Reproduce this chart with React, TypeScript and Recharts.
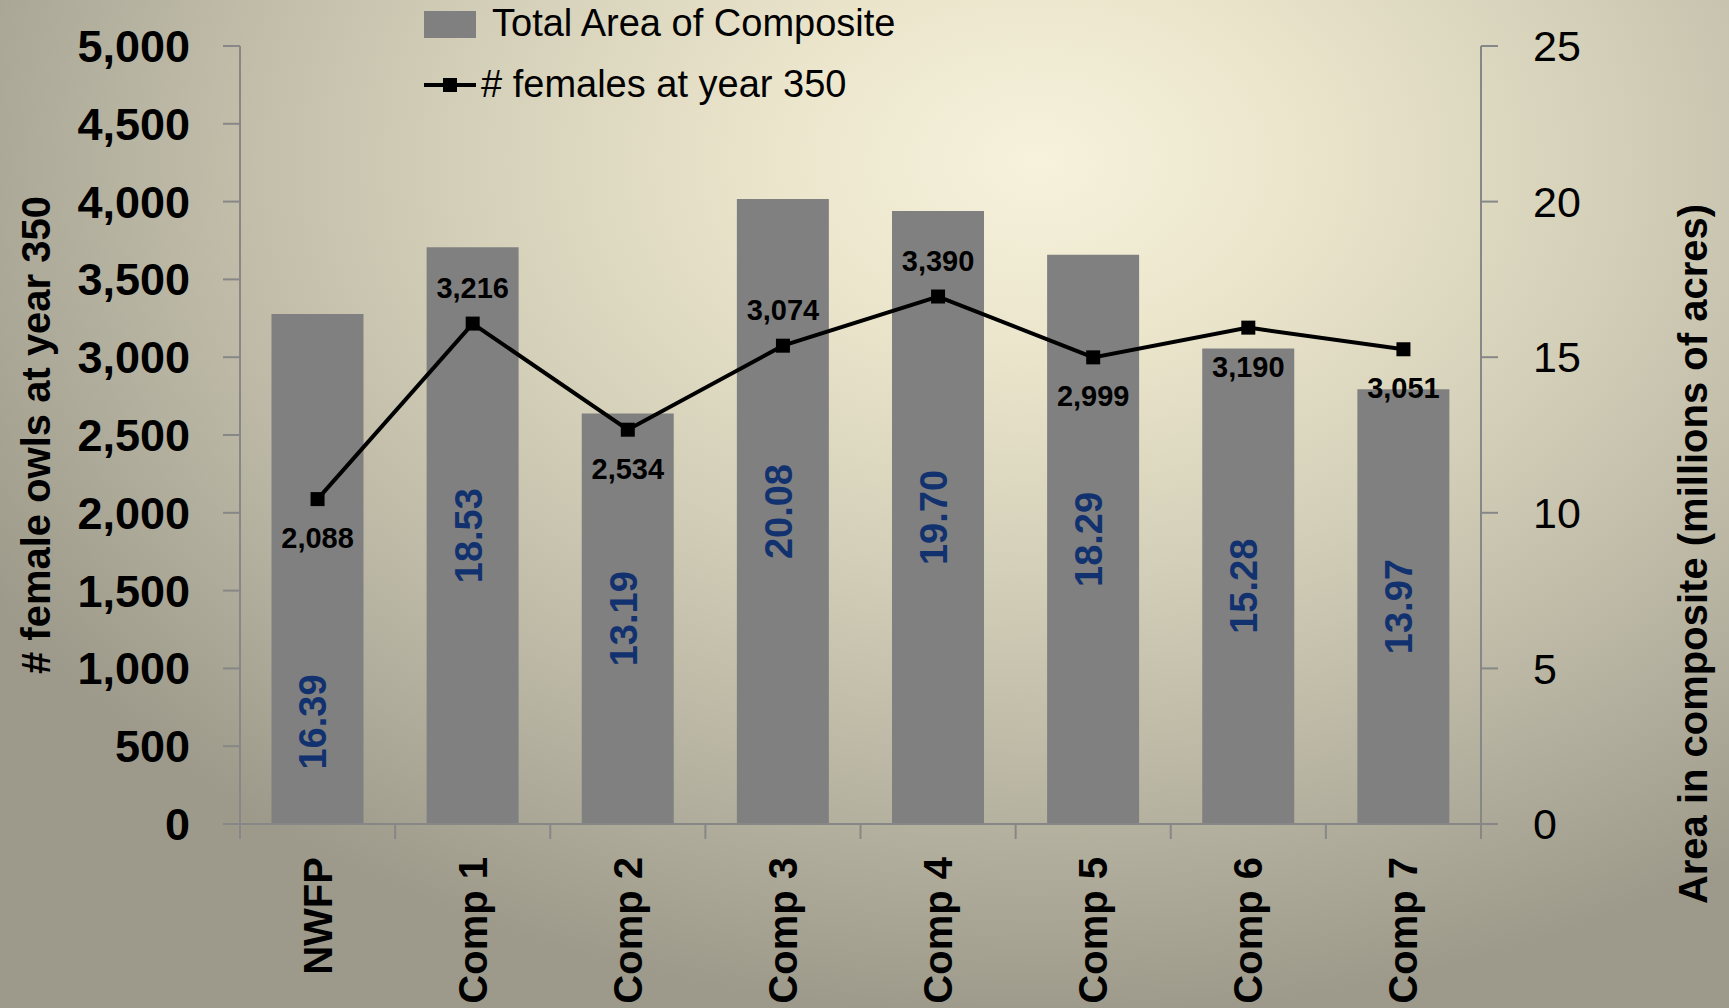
import React from 'react';
import {
  ComposedChart, Bar, Line, XAxis, YAxis, Legend, LabelList,
} from 'recharts';

const categories = ['NWFP', 'Comp 1', 'Comp 2', 'Comp 3', 'Comp 4', 'Comp 5', 'Comp 6', 'Comp 7'];
const areaMillionAcres = [16.39, 18.53, 13.19, 20.08, 19.70, 18.29, 15.28, 13.97];
const femalesYear350 = [2088, 3216, 2534, 3074, 3390, 2999, 3190, 3051];
const leftTicks = [0, 500, 1000, 1500, 2000, 2500, 3000, 3500, 4000, 4500, 5000];
const rightTicks = [0, 5, 10, 15, 20, 25];

const BAR_NAME = 'Total Area of Composite';
const LINE_NAME = '# females at year 350';
const LEFT_TITLE = '# female owls at year 350';
const RIGHT_TITLE = 'Area in composite (millions of acres)';

// label placement for the line values (above / below the marker)
const LINE_LABEL_SIDE = ['below', 'above', 'below', 'above', 'above', 'below', 'below', 'below'];

const W = 1729;
const H = 1008;
const LEFT_W = 240;
const RIGHT_W = 248;
const TOP = 46;
const X_H = 184;
const BAND = (W - LEFT_W - RIGHT_W) / categories.length;

const FONT = "'Liberation Sans', Arial, sans-serif";
const AXIS = '#878787';
const BAR_COLOR = '#808080';
const BLUE = '#12326f';

const data = categories.map((name, i) => ({
  name,
  area: areaMillionAcres[i],
  females: femalesYear350[i],
}));

const fmt = (v: number) => v.toLocaleString('en-US');

const XTick = (props: any) => {
  const { x, y, payload, index } = props;
  const ty = y + 33;
  return (
    <g>
      <line x1={x - BAND / 2} x2={x - BAND / 2} y1={y} y2={y + 15} stroke={AXIS} strokeWidth={2} />
      {index === categories.length - 1 && (
        <line x1={x + BAND / 2} x2={x + BAND / 2} y1={y} y2={y + 15} stroke={AXIS} strokeWidth={2} />
      )}
      <text
        x={x}
        y={ty}
        dy={14}
        transform={`rotate(-90 ${x} ${ty})`}
        textAnchor="end"
        fontFamily={FONT}
        fontWeight="bold"
        fontSize={40}
        fill="#000"
      >
        {payload.value}
      </text>
    </g>
  );
};

const LineLabel = (props: any) => {
  const vb = props.viewBox || {};
  const x = vb.x ?? props.x;
  const y = vb.y ?? props.y;
  const below = LINE_LABEL_SIDE[props.index] === 'below';
  return (
    <text
      x={x}
      y={below ? y + 39 : y - 36}
      textAnchor="middle"
      dominantBaseline="central"
      fontFamily={FONT}
      fontWeight="bold"
      fontSize={29}
      fill="#000"
    >
      {fmt(Number(props.value))}
    </text>
  );
};

const BarLabel = (props: any) => {
  const vb = props.viewBox || props;
  const cx = vb.x + vb.width / 2 + 9;
  // first label sits lower in the bar to keep clear of the line label
  const cy = vb.y + vb.height / 2 + (props.index === 0 ? 153 : 0);
  return (
    <text
      x={cx}
      y={cy}
      transform={`rotate(-90 ${cx} ${cy})`}
      textAnchor="middle"
      fontFamily={FONT}
      fontWeight="bold"
      fontSize={38}
      fill={BLUE}
    >
      {Number(props.value).toFixed(2)}
    </text>
  );
};

const LeftTitle = (props: any) => {
  const vb = props.viewBox;
  const cx = vb.x + 36;
  const cy = vb.y + vb.height / 2;
  return (
    <text
      x={cx}
      y={cy}
      transform={`rotate(-90 ${cx} ${cy})`}
      textAnchor="middle"
      dominantBaseline="central"
      fontFamily={FONT}
      fontWeight="bold"
      fontSize={40}
      fill="#000"
    >
      {LEFT_TITLE}
    </text>
  );
};

const RightTitle = (props: any) => {
  const vb = props.viewBox;
  const cx = vb.x + 212;
  const cy = vb.y + vb.height / 2 + 119;
  return (
    <text
      x={cx}
      y={cy}
      transform={`rotate(-90 ${cx} ${cy})`}
      textAnchor="middle"
      dominantBaseline="central"
      fontFamily={FONT}
      fontWeight="bold"
      fontSize={40}
      fill="#000"
    >
      {RIGHT_TITLE}
    </text>
  );
};

const renderLegend = () => (
  <svg width={900} height={110} style={{ display: 'block' }}>
    <rect x={424} y={11} width={52} height={27} fill={BAR_COLOR} />
    <text x={492} y={36} fontFamily={FONT} fontSize={38} fill="#000">{BAR_NAME}</text>
    <line x1={424} x2={476} y1={85} y2={85} stroke="#000" strokeWidth={4} />
    <rect x={443} y={78} width={14} height={14} fill="#000" />
    <text x={481} y={97} fontFamily={FONT} fontSize={38} fill="#000">{LINE_NAME}</text>
  </svg>
);

const SquareDot = (p: any) => (
  <rect key={`dot-${p.index}`} x={p.cx - 7} y={p.cy - 7} width={14} height={14} fill="#000" />
);

export default function App() {
  return (
    <div
      style={{
        position: 'absolute',
        left: 0,
        top: 0,
        width: W,
        height: H,
        background:
          'radial-gradient(ellipse 70% 85% at 60% 16%, #f7f2dc 0%, #ebe5cc 22%, #d4cfb8 48%, #b8b4a2 75%, #9d9a8b 100%)',
      }}
    >
      <ComposedChart
        width={W}
        height={H}
        data={data}
        margin={{ top: TOP, right: 0, bottom: 0, left: 0 }}
        barCategoryGap="20.3%"
      >
        <Legend
          layout="vertical"
          align="center"
          verticalAlign="middle"
          content={renderLegend}
          wrapperStyle={{ left: 0, top: 0, width: 900, height: 110 }}
        />
        <XAxis
          dataKey="name"
          height={X_H}
          interval={0}
          tickSize={0}
          tickMargin={0}
          tickLine={false}
          axisLine={{ stroke: AXIS, strokeWidth: 2 }}
          tick={<XTick />}
        />
        <YAxis
          yAxisId="left"
          orientation="left"
          width={LEFT_W}
          domain={[0, 5000]}
          ticks={leftTicks}
          interval={0}
          tickFormatter={fmt}
          tickSize={17}
          tickMargin={33}
          tickLine={{ stroke: AXIS, strokeWidth: 2 }}
          axisLine={{ stroke: AXIS, strokeWidth: 2 }}
          tick={{ fill: '#000', fontFamily: FONT, fontWeight: 'bold', fontSize: 45 }}
          label={{ value: LEFT_TITLE, content: <LeftTitle /> }}
        />
        <YAxis
          yAxisId="right"
          orientation="right"
          width={RIGHT_W}
          domain={[0, 25]}
          ticks={rightTicks}
          interval={0}
          tickSize={17}
          tickMargin={35}
          tickLine={{ stroke: AXIS, strokeWidth: 2 }}
          axisLine={{ stroke: AXIS, strokeWidth: 2 }}
          tick={{ fill: '#000', fontFamily: FONT, fontSize: 43 }}
          label={{ value: RIGHT_TITLE, content: <RightTitle /> }}
        />
        <Bar
          yAxisId="right"
          dataKey="area"
          name={BAR_NAME}
          fill={BAR_COLOR}
          isAnimationActive={false}
        >
          <LabelList dataKey="area" content={<BarLabel />} />
        </Bar>
        <Line
          yAxisId="left"
          type="linear"
          dataKey="females"
          name={LINE_NAME}
          stroke="#000"
          strokeWidth={4}
          dot={SquareDot}
          activeDot={false}
          isAnimationActive={false}
        >
          <LabelList dataKey="females" content={<LineLabel />} />
        </Line>
      </ComposedChart>
    </div>
  );
}
